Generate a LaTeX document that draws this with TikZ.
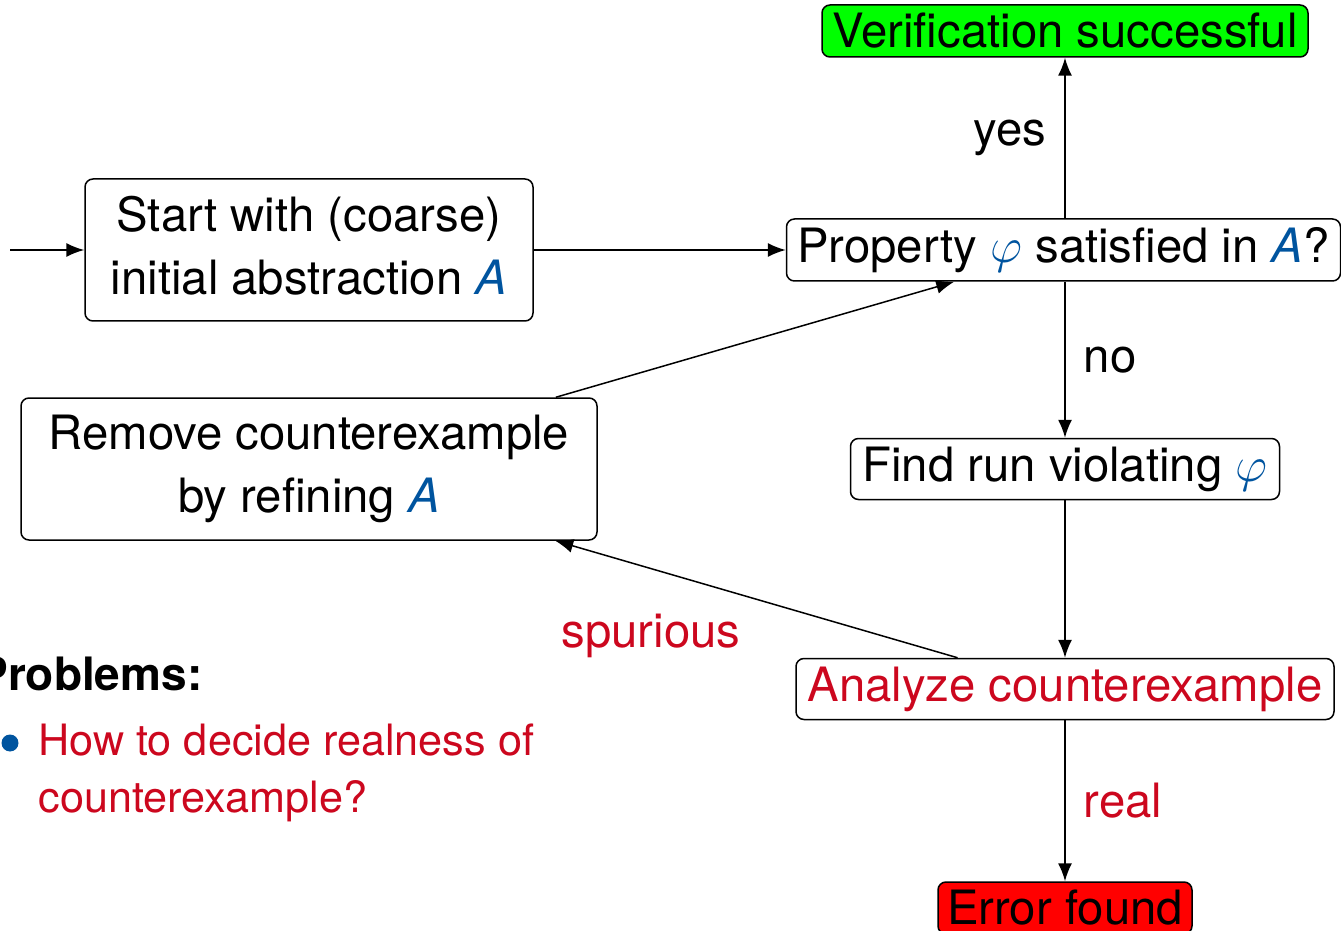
\documentclass[tikz,border=0pt]{standalone}
\usepackage{fontspec}
\setmainfont{TeX Gyre Heros}
\usetikzlibrary{arrows.meta}
\definecolor{rwthblue}{RGB}{0,84,159}
\definecolor{rwthred}{RGB}{204,7,30}
\definecolor{okgreen}{RGB}{0,255,0}
\definecolor{errred}{RGB}{255,0,0}
\newcommand{\myA}{\textcolor{rwthblue}{\textit{A}}}
\newcommand{\myphi}{\textcolor{rwthblue}{$\varphi$}}
\begin{document}
\begin{tikzpicture}[x=0.5pt,y=-0.5pt,
  font=\fontsize{23.65}{31.5}\selectfont,
  box/.style={draw, line width=0.75pt, rounded corners=4pt, inner sep=0pt, align=center},
  arr/.style={-{Latex[length=9pt,width=7pt]}, line width=0.75pt},
  lab/.style={inner sep=0pt},
  itemtext/.style={inner sep=0pt, font=\fontsize{21.6}{28.5}\selectfont}]
\useasboundingbox (0,0) rectangle (1341,931);
\node[box, fill=okgreen, minimum width=243pt, minimum height=26pt] (ver) at (1065,31) {Verification successful};
\node[box, minimum width=277pt, minimum height=31pt] (prop) at (1063.5,250) {Property \myphi{} satisfied in \myA?};
\node[box, minimum width=224pt, minimum height=71pt] (start) at (309,250) {Start with (coarse)\\initial abstraction \myA\vphantom{y}};
\node[box, minimum width=288pt, minimum height=71pt] (rem) at (309,469) {Remove counterexample\\by refining \myA};
\node[box, minimum width=214.5pt, minimum height=30.5pt] (find) at (1065,469) {Find run violating \myphi};
\node[box, minimum width=269pt, minimum height=30.5pt, text=rwthred] (ana) at (1065,689) {Analyze counterexample};
\node[box, fill=errred, minimum width=127pt, minimum height=26pt] (err) at (1065,908) {Error found};
\coordinate (in) at (10,250);
\draw[arr] (in) -- (start);
\draw[arr] (start) -- (prop);
\draw[arr] (prop.north -| ver.south) -- node[lab, left=9pt]{yes} (ver.south);
\draw[arr] (prop.south -| find.north) -- node[lab, right=9pt]{no} (find.north);
\draw[arr] (find) -- (ana);
\draw[arr] (ana) -- node[lab, right=9pt, text=rwthred]{real} (err);
\draw[arr] (rem) -- (prop);
\draw[arr] (ana) -- (rem);
\node[lab, text=rwthred] (spur) at (651,636) {spurious};
\node[itemtext, anchor=base west, font=\fontsize{23}{28.5}\selectfont\bfseries] (prob) at (-23,690) {Problems:};
\node[circle, fill=rwthblue, inner sep=0pt, minimum size=8.5pt] (bul) at (10,743) {};
\node[itemtext, anchor=north west, align=left, text=rwthred] (item) at (38,723) {How to decide realness of\\counterexample?};
\end{tikzpicture}
\end{document}
